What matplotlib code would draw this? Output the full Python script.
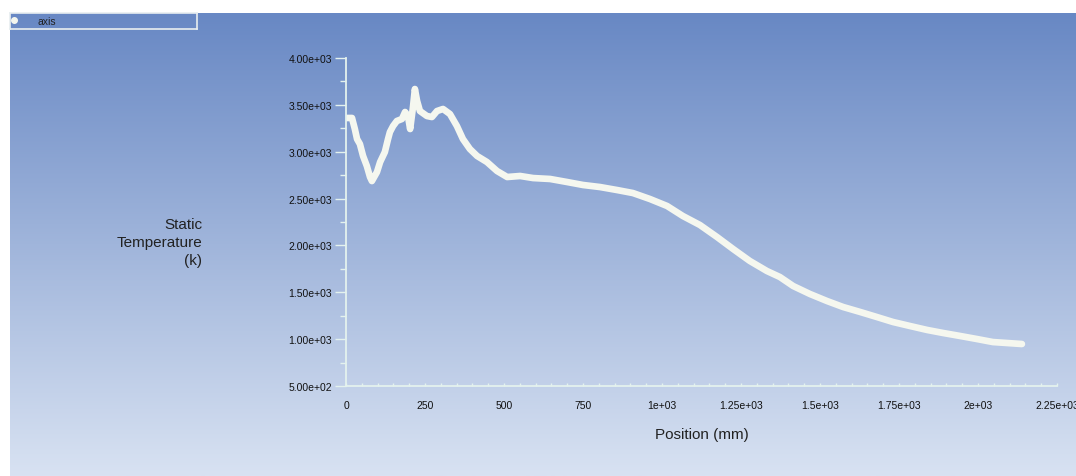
import numpy as np
import matplotlib.pyplot as plt
from matplotlib.ticker import MultipleLocator

# datos (posicion en mm, temperatura estatica en K)
position = [0, 19, 28, 35, 44, 54, 66, 76, 82, 98, 108, 123, 133, 139, 149, 161,
            177, 187, 196, 203, 212, 218, 225, 234, 256, 272, 288, 307, 329, 351,
            370, 392, 415, 446, 478, 510, 551, 592, 646, 699, 750, 804, 858, 908,
            962, 1016, 1066, 1120, 1174, 1225, 1278, 1332, 1373, 1415, 1468, 1522,
            1573, 1627, 1680, 1731, 1785, 1839, 1889, 1943, 1997, 2047, 2139]
temperature = [3360, 3360, 3242, 3135, 3082, 2954, 2847, 2730, 2687, 2783, 2890,
               2997, 3135, 3210, 3274, 3328, 3349, 3424, 3381, 3242, 3477, 3669,
               3541, 3434, 3381, 3370, 3434, 3456, 3402, 3274, 3135, 3029, 2954,
               2890, 2794, 2730, 2741, 2719, 2709, 2677, 2645, 2623, 2591, 2559,
               2495, 2421, 2314, 2218, 2090, 1962, 1834, 1727, 1663, 1567, 1482,
               1407, 1343, 1290, 1236, 1183, 1140, 1098, 1066, 1034, 1001, 969, 948]

x_ticks = [0, 250, 500, 750, 1000, 1250, 1500, 1750, 2000, 2250]
x_labels = ['0', '250', '500', '750', '1e+03', '1.25e+03', '1.5e+03',
            '1.75e+03', '2e+03', '2.25e+03']
y_ticks = [500, 1000, 1500, 2000, 2500, 3000, 3500, 4000]

plt.rcParams['font.family'] = ['Liberation Sans', 'DejaVu Sans']

W, H = 1076, 477
fig = plt.figure(figsize=(W / 100, H / 100), dpi=100, facecolor='white')

# fondo con degradado
bg = fig.add_axes([10 / W, 0, 1 - 10 / W, (H - 14) / H], zorder=-1)
top = np.array([104, 136, 196]) / 255
bot = np.array([216, 226, 242]) / 255
t = np.linspace(0, 1, 256)[:, None]
grad = top[None, :] * (1 - t) + bot[None, :] * t
bg.imshow(grad[:, None, :], aspect='auto', extent=[0, 1, 0, 1])
bg.axis('off')

# leyenda
leg = fig.add_axes([10 / W, 1 - 30 / H, 187 / W, 16 / H], zorder=2)
leg.set_facecolor('none')
leg.set_xlim(0, 187)
leg.set_ylim(0, 16)
leg.set_xticks([])
leg.set_yticks([])
for s in leg.spines.values():
    s.set_color('#e8eef0')
    s.set_linewidth(1.2)
leg.plot([3.5], [9], 'o', color='#f4f6ee', ms=4)
leg.text(27, 8, 'axis', fontsize=7.5, va='center', color='#222222')

# grafico principal
ax = fig.add_axes([346 / W, (H - 387) / H, (1057 - 346) / W, (387 - 59) / H])
ax.set_facecolor('none')
ax.plot(position, temperature, color='#f5f7ef', lw=4.8,
        solid_capstyle='round', solid_joinstyle='round')
ax.set_xlim(0, 2250)
ax.set_ylim(500, 4000)

for s in ['top', 'right']:
    ax.spines[s].set_visible(False)
for s in ['left', 'bottom']:
    ax.spines[s].set_color('#e4f2ee')
    ax.spines[s].set_linewidth(1.3)

ax.set_xticks(x_ticks)
ax.set_xticklabels(x_labels)
ax.set_yticks(y_ticks)
ax.set_yticklabels(['%.2e' % v for v in y_ticks])
ax.xaxis.set_minor_locator(MultipleLocator(50))
ax.yaxis.set_minor_locator(MultipleLocator(250))
ax.tick_params(axis='x', which='both', direction='in', length=2.5, width=1,
               color='#e4f2ee', labelsize=7.5, pad=10, labelcolor='#111111')
ax.tick_params(axis='y', which='major', direction='out', length=8, width=1,
               color='#e4f2ee', labelsize=7.5, pad=2, labelcolor='#111111')
ax.tick_params(axis='y', which='minor', direction='out', length=4.3, width=1,
               color='#e4f2ee')

ax.set_xlabel('Position (mm)', fontsize=11, color='#222222', labelpad=12)
fig.text(202 / W, 1 - 243 / H, 'Static\nTemperature\n(k)', ha='right',
         va='center', multialignment='right', fontsize=11, color='#222222',
         linespacing=1.35)

fig.savefig('out.png', dpi=100, facecolor='white')
